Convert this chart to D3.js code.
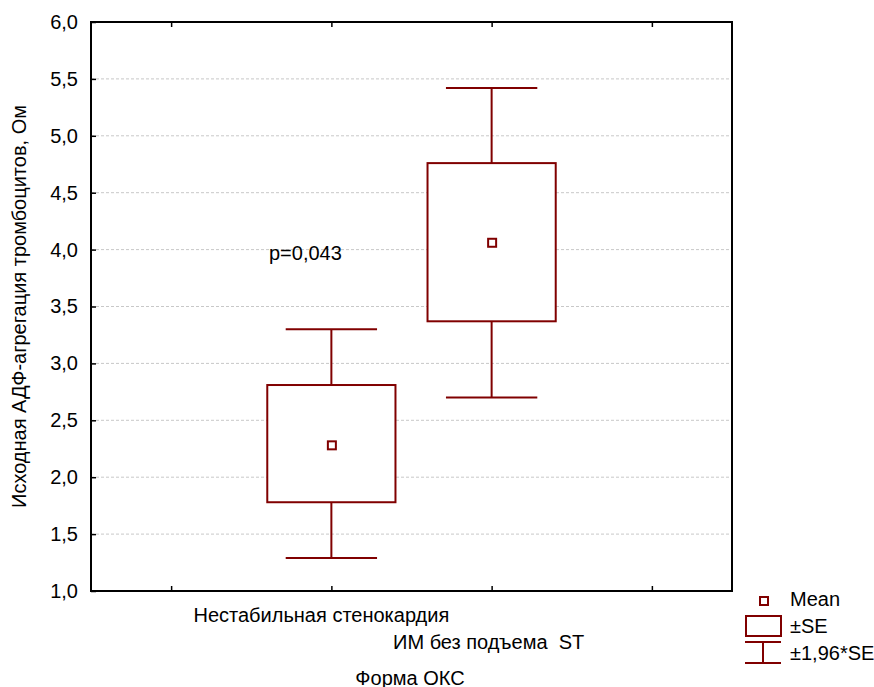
<!DOCTYPE html>
<html>
<head>
<meta charset="utf-8">
<script src="https://cdn.jsdelivr.net/npm/d3@7"></script>
<style>
  body { margin: 0; background: #fff; }
  text { font-family: "Liberation Sans", Arial, sans-serif; fill: #000; }
</style>
</head>
<body>
<svg id="chart" width="874" height="687"></svg>
<script>
const width = 874, height = 687;
const margin = {top: 22, right: 142, bottom: 96, left: 91};

// data
const groups = ["Нестабильная стенокардия", "ИМ без подъема  ST"];
const groupPos = [1.5, 2.5];
const means = [2.28, 4.06];
const seLow = [1.78, 3.37];
const seHigh = [2.81, 4.76];
const ciLow = [1.29, 2.70];
const ciHigh = [3.30, 5.42];
const yTicks = [1.0, 1.5, 2.0, 2.5, 3.0, 3.5, 4.0, 4.5, 5.0, 5.5, 6.0];
const xTicks = [0.5, 1.5, 2.5, 3.5];
const legendLabels = ["Mean", "±SE", "±1,96*SE"];

const red = "#800000";
const fs = 20;
const fmt = d => d.toFixed(1).replace(".", ",");

const svg = d3.select("#chart");
const x = d3.scaleLinear([0, 4], [margin.left, width - margin.right]);
const y = d3.scaleLinear([1, 6], [height - margin.bottom, margin.top]);

// grid
svg.append("g").selectAll("line")
  .data(yTicks.slice(1, -1))
  .join("line")
    .attr("x1", x(0)).attr("x2", x(4))
    .attr("y1", d => y(d)).attr("y2", d => y(d))
    .attr("stroke", "#c8c8c8")
    .attr("stroke-dasharray", "3,2")
    .attr("stroke-width", 1);

// y axis labels + ticks
const yAxis = d3.axisLeft(y).tickValues(yTicks).tickFormat(fmt).tickSize(-5).tickPadding(13);
svg.append("g")
  .attr("transform", `translate(${x(0)},0)`)
  .call(yAxis)
  .call(g => g.select(".domain").remove())
  .call(g => g.selectAll("line").attr("stroke", "#000").attr("stroke-width", 1.5))
  .call(g => g.selectAll("text").attr("font-size", fs).style("font-family", "Liberation Sans, Arial, sans-serif"));

// x ticks bottom and top (inward)
const xb = d3.axisBottom(x).tickValues(xTicks).tickFormat("").tickSize(-5);
svg.append("g").attr("transform", `translate(0,${y(1)})`).call(xb)
  .call(g => g.select(".domain").remove())
  .call(g => g.selectAll("line").attr("stroke", "#000").attr("stroke-width", 1.5));
const xt = d3.axisTop(x).tickValues(xTicks).tickFormat("").tickSize(-5);
svg.append("g").attr("transform", `translate(0,${y(6)})`).call(xt)
  .call(g => g.select(".domain").remove())
  .call(g => g.selectAll("line").attr("stroke", "#000").attr("stroke-width", 1.5));

// frame
svg.append("rect")
  .attr("x", x(0)).attr("y", y(6))
  .attr("width", x(4) - x(0)).attr("height", y(1) - y(6))
  .attr("fill", "none").attr("stroke", "#000").attr("stroke-width", 2);

// boxes
const boxW = x(0.8) - x(0);
const capW = x(0.57) - x(0);
const bx = svg.append("g").attr("stroke", red).attr("stroke-width", 2).attr("fill", "none");
groups.forEach((g, i) => {
  const cx = x(groupPos[i]);
  bx.append("line").attr("x1", cx).attr("x2", cx).attr("y1", y(ciHigh[i])).attr("y2", y(seHigh[i]));
  bx.append("line").attr("x1", cx).attr("x2", cx).attr("y1", y(seLow[i])).attr("y2", y(ciLow[i]));
  bx.append("line").attr("x1", cx - capW / 2).attr("x2", cx + capW / 2).attr("y1", y(ciHigh[i])).attr("y2", y(ciHigh[i]));
  bx.append("line").attr("x1", cx - capW / 2).attr("x2", cx + capW / 2).attr("y1", y(ciLow[i])).attr("y2", y(ciLow[i]));
  bx.append("rect").attr("x", cx - boxW / 2).attr("y", y(seHigh[i]))
    .attr("width", boxW).attr("height", y(seLow[i]) - y(seHigh[i])).attr("fill", "#fff");
  bx.append("rect").attr("x", cx - 3.5).attr("y", y(means[i]) - 4).attr("width", 8).attr("height", 8);
});

// p value
svg.append("text").attr("x", 269).attr("y", 260).attr("font-size", fs).text("p=0,043");

// category labels (staggered)
svg.append("text").attr("x", x(groupPos[0]) - 10).attr("y", 622).attr("text-anchor", "middle")
  .attr("font-size", fs).text(groups[0]);
svg.append("text").attr("x", x(groupPos[1]) - 3).attr("y", 649).attr("text-anchor", "middle")
  .attr("font-size", fs).style("white-space", "pre").text(groups[1]);

// axis titles
svg.append("text").attr("x", 410).attr("y", 685).attr("text-anchor", "middle")
  .attr("font-size", fs).text("Форма ОКС");
svg.append("text").attr("transform", `translate(26,${(y(1) + y(6)) / 2}) rotate(-90)`)
  .attr("text-anchor", "middle").attr("font-size", fs)
  .text("Исходная АДФ-агрегация тромбоцитов, Ом");

// legend
const lg = svg.append("g").attr("stroke", red).attr("stroke-width", 2).attr("fill", "none");
lg.append("rect").attr("x", 760).attr("y", 597).attr("width", 8).attr("height", 8);
lg.append("rect").attr("x", 746).attr("y", 616).attr("width", 35).attr("height", 20);
lg.append("line").attr("x1", 745).attr("x2", 781).attr("y1", 642).attr("y2", 642);
lg.append("line").attr("x1", 745).attr("x2", 781).attr("y1", 663).attr("y2", 663);
lg.append("line").attr("x1", 763).attr("x2", 763).attr("y1", 642).attr("y2", 663);
svg.append("g").selectAll("text").data(legendLabels).join("text")
  .attr("x", 790).attr("y", (d, i) => 606 + i * 27)
  .attr("font-size", fs).text(d => d);
</script>
</body>
</html>
